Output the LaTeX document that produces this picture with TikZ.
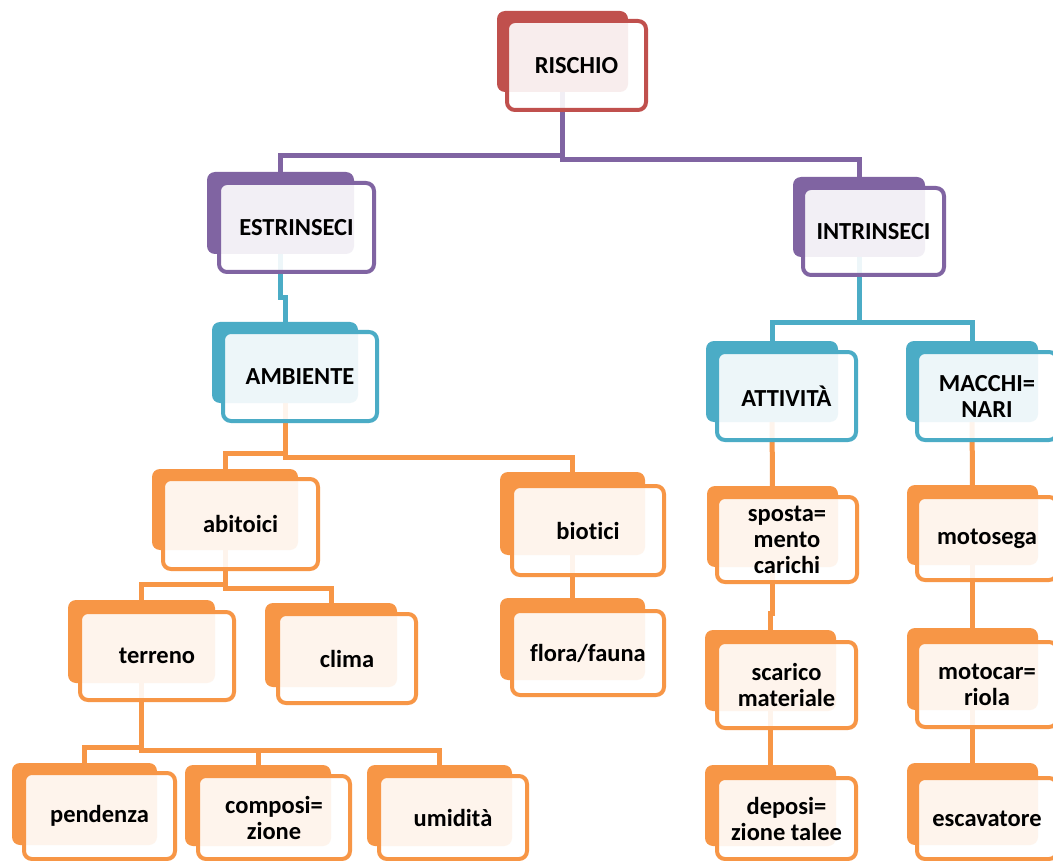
\documentclass[tikz,border=0pt]{standalone}
\usepackage{fontspec}
\setmainfont{Carlito}[Ligatures=NoCommon]
\usetikzlibrary{fit,backgrounds}
\definecolor{cred}{HTML}{C0504D}
\definecolor{cpur}{HTML}{8064A2}
\definecolor{cblu}{HTML}{4BACC6}
\definecolor{cora}{HTML}{F79646}
\tikzset{
  backbox/.style={rectangle, rounded corners=8pt, inner sep=0pt, outer sep=0pt, draw=none},
  frontbox/.style={rectangle, rounded corners=8pt, inner sep=0pt, outer sep=0pt, line width=4pt,
    fill=white, fill opacity=0.9},
  boxtext/.style={inner sep=0pt, align=center, text=black,
    font=\fontsize{24.5}{26}\selectfont\bfseries},
  conn/.style={line width=5pt, line cap=rect},
}
\newcommand\dpair[7]{%
  \node[backbox, fill=#2, fit={#3 #4}] (#1b) {};
  \node[frontbox, draw=#2, fit={#5 #6}] (#1) {};
  \node[boxtext] (#1t) at (#1.center) {#7};
}
\begin{document}
\begin{tikzpicture}[x=1pt,y=-1pt]
\useasboundingbox (0,0) rectangle (1053,861);
% boxes
\dpair{ris}{cred}{(497,11)}{(628,92)}{(507,21)}{(646,110)}{RISCHIO}
\dpair{est}{cpur}{(207,172)}{(354,254)}{(219,183)}{(374,272)}{ESTRINSECI}
\dpair{intr}{cpur}{(793,177)}{(925,257)}{(803,188)}{(944,275)}{INTRINSECI}
\dpair{amb}{cblu}{(212,322)}{(358,403)}{(223,332)}{(377,421)}{AMBIENTE}
\dpair{att}{cblu}{(706,341)}{(838,422)}{(717,352)}{(856,440)}{ATTIVITÀ}
\dpair{mac}{cblu}{(906,341)}{(1038,422)}{(917,352)}{(1057,440)}{MACCHI=\\NARI}
\dpair{abi}{cora}{(152,469)}{(298,550)}{(163,479)}{(318,569)}{abitoici}
\dpair{bio}{cora}{(500,472)}{(645,555)}{(512,486)}{(664,575)}{biotici}
\dpair{ter}{cora}{(68,600)}{(215,683)}{(80,612)}{(234,700)}{terreno}
\dpair{cli}{cora}{(265,603)}{(397,687)}{(278,614)}{(416,703)}{clima}
\dpair{flo}{cora}{(500,598)}{(645,680)}{(512,611)}{(664,695)}{flora/fauna}
\dpair{spo}{cora}{(707,486)}{(838,567)}{(717,497)}{(857,582)}{sposta=\\mento\\carichi}
\dpair{mot}{cora}{(907,485)}{(1038,565)}{(917,497)}{(1057,580)}{motosega}
\dpair{sca}{cora}{(705,630)}{(836,711)}{(717,642)}{(856,728)}{scarico\\materiale}
\dpair{moc}{cora}{(907,628)}{(1038,710)}{(917,642)}{(1057,727)}{motocar=\\riola}
\dpair{dep}{cora}{(705,765)}{(836,846)}{(717,778)}{(856,859)}{deposi=\\zione talee}
\dpair{esc}{cora}{(907,763)}{(1038,845)}{(917,778)}{(1057,859)}{escavatore}
\dpair{pen}{cora}{(12,763)}{(157,845)}{(24,773)}{(175,859)}{pendenza}
\dpair{com}{cora}{(185,765)}{(331,846)}{(198,776)}{(350,859)}{composi=\\zione}
\dpair{umi}{cora}{(367,765)}{(512,846)}{(379,776)}{(527,859)}{umidità}
% junction levels
\coordinate (j1L) at (0,156);
\coordinate (j1R) at (0,160);
\coordinate (j2) at (0,323);
\coordinate (j2e) at (0,298);
\coordinate (j3L) at (0,453);
\coordinate (j3R) at (0,457);
\coordinate (j4L) at (0,584);
\coordinate (j4R) at (0,588);
\coordinate (j5L) at (0,747);
\coordinate (j5R) at (0,750);
\coordinate (j6) at (0,613);
\begin{pgfonlayer}{background}
\fill[white] (0,0) rectangle (1053,861);
\draw[conn, cpur] (risb.center) |- (estb.center |- j1L) -- (estb.center);
\draw[conn, cpur] (risb.center) |- (intrb.center |- j1R) -- (intrb.center);
\draw[conn, cblu] (estb.center) |- (ambb.center |- j2e) -- (ambb.center);
\draw[conn, cblu] (intrb.center) |- (attb.center |- j2) -- (attb.center);
\draw[conn, cblu] (intrb.center) |- (macb.center |- j2) -- (macb.center);
\draw[conn, cora] (ambb.center) |- (abib.center |- j3L) -- (abib.center);
\draw[conn, cora] (ambb.center) |- (biob.center |- j3R) -- (biob.center);
\draw[conn, cora] (abib.center) |- (terb.center |- j4L) -- (terb.center);
\draw[conn, cora] (abib.center) |- (clib.center |- j4R) -- (clib.center);
\draw[conn, cora] (terb.center) |- (penb.center |- j5L) -- (penb.center);
\draw[conn, cora] (terb.center) |- (comb.center |- j5R) -- (comb.center);
\draw[conn, cora] (terb.center) |- (umib.center |- j5R) -- (umib.center);
\draw[conn, cora] (biob.center) -- (flob.center);
\draw[conn, cora] (attb.center) -- (spob.center);
\draw[conn, cora] (spob.center) |- (scab.center |- j6) -- (scab.center);
\draw[conn, cora] (scab.center) -- (depb.center);
\draw[conn, cora] (macb.center) -- (motb.center);
\draw[conn, cora] (motb.center) -- (mocb.center);
\draw[conn, cora] (mocb.center) -- (escb.center);
\end{pgfonlayer}
\end{tikzpicture}
\end{document}
